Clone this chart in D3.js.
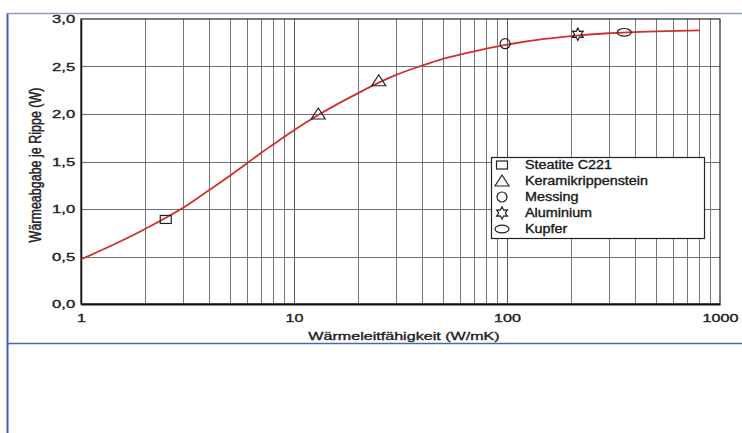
<!DOCTYPE html>
<html>
<head>
<meta charset="utf-8">
<script src="https://cdn.jsdelivr.net/npm/d3@7"></script>
<style>
  body { margin: 0; background: #fff; }
  svg { display: block; font-family: "Liberation Sans", Arial, sans-serif; }
  svg text { stroke: #222; stroke-width: 0.35px; }
</style>
</head>
<body>
<script>
const width = 742;
const height = 433;

// curve: Wärmeleitfähigkeit (W/mK) -> Wärmeabgabe je Rippe (W)
const curveK = [1, 1.5, 2, 3, 4, 5, 6, 7, 8, 9, 10, 13, 15, 20, 25, 30, 40, 50, 70, 100, 150, 200, 300, 500, 800];
const curveW = [0.47, 0.65, 0.79, 1.01, 1.20, 1.35, 1.48, 1.59, 1.68, 1.76, 1.83, 1.99, 2.07, 2.22, 2.33, 2.41, 2.51, 2.58, 2.66, 2.73, 2.79, 2.82, 2.85, 2.87, 2.88];

// materials and their markers
const materials = ["Steatite C221", "Keramikrippenstein", "Messing", "Aluminium", "Kupfer"];
const markerMat = ["Steatite C221", "Keramikrippenstein", "Keramikrippenstein", "Messing", "Aluminium", "Kupfer"];
const markerK = [2.5, 13, 25, 98, 215, 355];
const markerW = [0.89, 2.0, 2.35, 2.74, 2.84, 2.86];

const xTicks = [1, 10, 100, 1000];
const yTicks = [0, 0.5, 1, 1.5, 2, 2.5, 3];

const x = d3.scaleLog().domain([1, 1000]).range([81, 720]);
const y = d3.scaleLinear().domain([0, 3]).range([304, 19]);

const svg = d3.select(document.body).append("svg")
    .attr("width", width)
    .attr("height", height);

// scan frame
const frame = svg.append("g").attr("fill", "none");
frame.append("line").attr("x1", 7.5).attr("x2", 7.5).attr("y1", 13).attr("y2", height)
    .attr("stroke", "#3a5fc0").attr("stroke-width", 2);
frame.append("line").attr("x1", 7).attr("x2", width).attr("y1", 13.5).attr("y2", 13.5)
    .attr("stroke", "#8d9cc0").attr("stroke-width", 1.5);
frame.append("line").attr("x1", 7).attr("x2", width).attr("y1", 343.5).attr("y2", 343.5)
    .attr("stroke", "#4a66b0").attr("stroke-width", 1.5);

// grid
const minor = [];
[1, 10, 100].forEach(d => { for (let i = 2; i <= 10; i++) minor.push(d * i); });

const grid = svg.append("g").attr("stroke", "#6e6e6e").attr("stroke-width", 1);
grid.selectAll("line.v")
  .data(minor.filter(d => d < 1000))
  .join("line")
    .attr("class", "v")
    .attr("x1", d => Math.round(x(d)) + 0.5)
    .attr("x2", d => Math.round(x(d)) + 0.5)
    .attr("y1", y(3))
    .attr("y2", y(0))
    .attr("stroke", d => (d === 10 || d === 100) ? "#555" : "#777");
grid.selectAll("line.h")
  .data(yTicks.filter(d => d > 0 && d < 3))
  .join("line")
    .attr("class", "h")
    .attr("x1", x(1))
    .attr("x2", x(1000))
    .attr("y1", d => Math.round(y(d)) + 0.5)
    .attr("y2", d => Math.round(y(d)) + 0.5);

// plot border
svg.append("rect")
    .attr("x", x(1)).attr("y", y(3))
    .attr("width", x(1000) - x(1)).attr("height", y(0) - y(3))
    .attr("fill", "none").attr("stroke", "#222").attr("stroke-width", 1.2);

// axes (the scan is stretched sideways, so labels get a wider x scale)
const xAxis = svg.append("g")
    .attr("transform", `translate(0,${y(0)})`)
    .call(d3.axisBottom(x).tickValues(xTicks).tickFormat(d3.format("d")).tickSize(0).tickPadding(10));
xAxis.select(".domain").attr("stroke", "#111").attr("stroke-width", 2);
xAxis.selectAll("text").attr("font-size", 11.5).attr("fill", "#222")
    .attr("transform", "scale(1.4,1)");

const yAxis = svg.append("g")
    .attr("transform", `translate(${x(1)},0)`)
    .call(d3.axisLeft(y).tickValues(yTicks).tickFormat(d => d.toFixed(1).replace(".", ",")).tickSize(0).tickPadding(4));
yAxis.select(".domain").attr("stroke", "#111").attr("stroke-width", 1.5);
yAxis.selectAll("text").attr("font-size", 11.5).attr("fill", "#222")
    .attr("transform", "scale(1.45,1)");

svg.append("text")
    .attr("transform", "translate(404,340) scale(1.4,1)")
    .attr("text-anchor", "middle")
    .attr("font-size", 11.5).attr("fill", "#222")
    .text("Wärmeleitfähigkeit (W/mK)");

svg.append("text")
    .attr("transform", "translate(41,165) scale(1.3,1) rotate(-90)")
    .attr("text-anchor", "middle")
    .attr("font-size", 12.5).attr("fill", "#222")
    .text("Wärmeabgabe je Rippe (W)");

// curve
const curve = d3.line()
    .x((d, i) => x(curveK[i]))
    .y(d => y(d))
    .curve(d3.curveMonotoneX);

svg.append("path")
    .attr("d", curve(curveW))
    .attr("fill", "none")
    .attr("stroke", "#d0312d")
    .attr("stroke-width", 1.8);

// marker shapes
const star6 = d3.lineRadial()
    .angle((d, i) => i * Math.PI / 6)
    .radius((d, i) => i % 2 ? 3.3 : 6.2)
    .curve(d3.curveLinearClosed);

function drawMarker(g, name) {
  if (name === "Steatite C221") {
    g.append("rect").attr("x", -5.5).attr("y", -4).attr("width", 11).attr("height", 8);
  } else if (name === "Keramikrippenstein") {
    g.append("path").attr("d", "M0,-6L7,5L-7,5Z");
  } else if (name === "Messing") {
    g.append("circle").attr("r", 5);
  } else if (name === "Aluminium") {
    g.append("path").attr("d", star6(d3.range(12)));
  } else {
    g.append("ellipse").attr("rx", 7).attr("ry", 3.8);
  }
}

svg.append("g")
  .selectAll("g")
  .data(markerMat)
  .join("g")
    .attr("transform", (d, i) => `translate(${x(markerK[i])},${y(markerW[i])})`)
    .attr("fill", "none")
    .attr("stroke", "#222")
    .attr("stroke-width", 1.2)
    .each(function(d) { drawMarker(d3.select(this), d); });

// legend
const legend = svg.append("g").attr("transform", "translate(491,157)");
legend.append("rect")
    .attr("x", 0.5).attr("y", 0.5)
    .attr("width", 213).attr("height", 81)
    .attr("fill", "#fff").attr("stroke", "#222").attr("stroke-width", 1.2);

const item = legend.selectAll("g.item")
  .data(materials)
  .join("g")
    .attr("class", "item")
    .attr("transform", (d, i) => `translate(0,${8 + i * 16})`);

item.append("g")
    .attr("transform", "translate(11,0)")
    .attr("fill", "none")
    .attr("stroke", "#222")
    .attr("stroke-width", 1.2)
    .each(function(d) { drawMarker(d3.select(this), d); });

item.append("text")
    .attr("transform", "translate(34,0) scale(1.15,1)")
    .attr("dy", "0.35em")
    .attr("font-size", 12.5).attr("fill", "#111")
    .text(d => d);
</script>
</body>
</html>
